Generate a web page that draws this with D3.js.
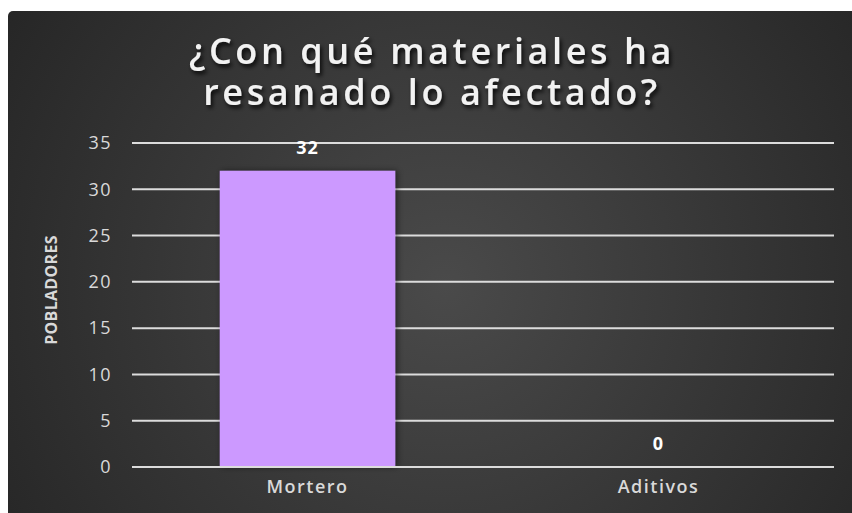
<!DOCTYPE html>
<html>
<head>
<meta charset="utf-8">
<script src="https://cdn.jsdelivr.net/npm/d3@7"></script>
<style>
  html, body { margin: 0; padding: 0; background: #ffffff; }
  svg { display: block; }
</style>
</head>
<body>
<svg id="chart" width="852" height="513"></svg>
<script>
// Data
const categories = ["Mortero", "Aditivos"];
const values = [32, 0];
const yTicks = [0, 5, 10, 15, 20, 25, 30, 35];
const titleLines = ["¿Con qué materiales ha", "resanado lo afectado?"];
const yAxisTitle = "POBLADORES";

const W = 852, H = 513;
const svg = d3.select("#chart");
const defs = svg.append("defs");

// Background gradient
const rg = defs.append("radialGradient")
  .attr("id", "bg").attr("gradientUnits", "userSpaceOnUse")
  .attr("cx", 445).attr("cy", 285).attr("r", 520);
rg.append("stop").attr("offset", "0%").attr("stop-color", "#4a4a4a");
rg.append("stop").attr("offset", "55%").attr("stop-color", "#363636");
rg.append("stop").attr("offset", "100%").attr("stop-color", "#262626");

const sh = defs.append("filter").attr("id", "tshadow")
  .attr("x", "-10%").attr("y", "-30%").attr("width", "120%").attr("height", "170%");
sh.append("feDropShadow").attr("dx", 2).attr("dy", 3).attr("stdDeviation", 2)
  .attr("flood-color", "#000").attr("flood-opacity", 0.85);

const bsh = defs.append("filter").attr("id", "bshadow")
  .attr("x", "-10%").attr("y", "-10%").attr("width", "130%").attr("height", "120%");
bsh.append("feDropShadow").attr("dx", 2).attr("dy", 0).attr("stdDeviation", 3)
  .attr("flood-color", "#000").attr("flood-opacity", 0.5);

svg.append("rect")
  .attr("x", 8).attr("y", 11).attr("width", W).attr("height", H)
  .attr("rx", 5).attr("fill", "url(#bg)");

// Scales
const plot = { left: 132, right: 834, top: 143, bottom: 467 };
const x = d3.scaleBand().domain(categories)
  .range([plot.left, plot.right]).paddingInner(0.5).paddingOuter(0.25);
const y = d3.scaleLinear().domain([0, 35]).range([plot.bottom, plot.top]);

// Gridlines
svg.append("g").selectAll("line").data(yTicks).join("line")
  .attr("x1", plot.left).attr("x2", plot.right)
  .attr("y1", d => y(d)).attr("y2", d => y(d))
  .attr("stroke", "#dcdcdc").attr("stroke-width", 2);

// Y axis labels
const yAxis = d3.axisLeft(y).tickValues(yTicks).tickSize(0).tickPadding(20);
const gy = svg.append("g").attr("transform", `translate(${plot.left},0)`).call(yAxis);
gy.select(".domain").remove();
gy.selectAll("text")
  .attr("fill", "#d9d9d9")
  .style("font-family", "'Open Sans', sans-serif")
  .style("font-size", "18px")
  .style("letter-spacing", "1.5px");

// Bars
svg.append("g").selectAll("rect").data(values).join("rect")
  .attr("x", (d, i) => x(categories[i]))
  .attr("width", x.bandwidth())
  .attr("y", d => y(d))
  .attr("height", d => y(0) - y(d))
  .attr("fill", "#cc99ff")
  .attr("filter", "url(#bshadow)");

// Redraw baseline on top of bars
svg.append("line")
  .attr("x1", plot.left).attr("x2", plot.right)
  .attr("y1", y(0)).attr("y2", y(0))
  .attr("stroke", "#dcdcdc").attr("stroke-width", 2);

// Value labels
svg.append("g").selectAll("text").data(values).join("text")
  .attr("x", (d, i) => x(categories[i]) + x.bandwidth() / 2)
  .attr("y", d => y(d) - 17)
  .attr("text-anchor", "middle")
  .attr("fill", "#ffffff")
  .style("font-family", "'Open Sans', sans-serif")
  .style("font-weight", "700")
  .style("font-size", "18px")
  .style("letter-spacing", "1px")
  .text(d => d);

// X axis labels
const xAxis = d3.axisBottom(x).tickSize(0).tickPadding(13);
const gx = svg.append("g").attr("transform", `translate(0,${plot.bottom})`).call(xAxis);
gx.select(".domain").remove();
gx.selectAll("text")
  .attr("fill", "#d9d9d9")
  .style("font-family", "'Open Sans', sans-serif")
  .style("font-weight", "600")
  .style("font-size", "18px")
  .style("letter-spacing", "1.5px");

// Y axis title
svg.append("text")
  .attr("transform", "translate(57,290) rotate(-90)")
  .attr("text-anchor", "middle")
  .attr("fill", "#d9d9d9")
  .style("font-family", "'Open Sans', sans-serif")
  .style("font-weight", "700")
  .style("font-size", "16px")
  .style("letter-spacing", "0.3px")
  .text(yAxisTitle);

// Title, one text element per line
svg.append("g").selectAll("text").data(titleLines).join("text")
  .attr("x", 432)
  .attr("y", (d, i) => 64 + i * 41)
  .attr("text-anchor", "middle")
  .attr("fill", "#f2f2f2")
  .attr("filter", "url(#tshadow)")
  .style("font-family", "'Open Sans', sans-serif")
  .style("font-weight", "600")
  .style("font-size", "36px")
  .style("letter-spacing", "3.6px")
  .text(d => d);
</script>
</body>
</html>
